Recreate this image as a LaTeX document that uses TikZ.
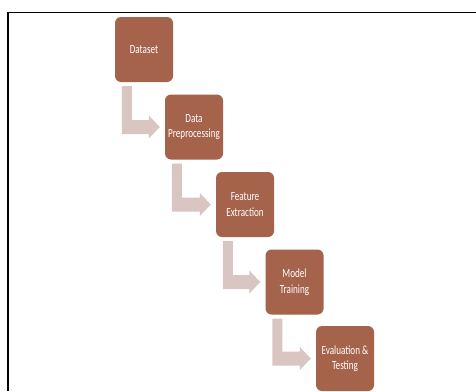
\documentclass[tikz,border=0pt]{standalone}
\usepackage{fontspec}
\setmainfont{Carlito}[FakeStretch=0.73]
\definecolor{boxbrown}{HTML}{A5634C}
\definecolor{arrowpink}{HTML}{D9C6C2}
\tikzset{
  stepbox/.style={rectangle, rounded corners=6pt, fill=boxbrown, draw=none,
    minimum width=58pt, minimum height=65pt, inner sep=1pt, text=white,
    align=center, font=\fontsize{12.5}{15.5}\selectfont},
  bentarrow/.style={fill=arrowpink, draw=none},
  frameline/.style={draw=black, line width=1.4pt}
}
\newcommand{\bentarr}[2]{%
  \fill[bentarrow]
    ([xshift=7pt,yshift=-4pt]#1.south west)
    -- ([xshift=17pt,yshift=-4pt]#1.south west)
    -- ([xshift=17pt,yshift=7pt]#1.south west |- #2.west)
    -- ([xshift=-16pt,yshift=7pt]#2.west)
    -- ([xshift=-16pt,yshift=11.5pt]#2.west)
    -- ([xshift=-5pt]#2.west)
    -- ([xshift=-16pt,yshift=-11.5pt]#2.west)
    -- ([xshift=-16pt,yshift=-7pt]#2.west)
    -- ([xshift=7pt,yshift=-7pt]#1.south west |- #2.west)
    -- cycle;}
\begin{document}
\begin{tikzpicture}[x=1pt,y=-1pt]
\useasboundingbox (0,0) rectangle (476,391);
\fill[white] (0,0) rectangle (476,391);
\coordinate (ftop) at (8,12.5);
\coordinate (fright) at (476,12.5);
\coordinate (fbottom) at (8,391);
\draw[frameline] (fbottom) -- (ftop) -- (fright);
\node[stepbox] (n1) at (144,49.5) {Dataset};
\node[stepbox] (n2) at (194,127) {Data\\Preprocessing};
\node[stepbox] (n3) at (245,204.5) {Feature\\Extraction};
\node[stepbox] (n4) at (294.5,282) {Model\\Training};
\node[stepbox] (n5) at (345,358.5) {Evaluation \&\\Testing};
\bentarr{n1}{n2}
\bentarr{n2}{n3}
\bentarr{n3}{n4}
\bentarr{n4}{n5}
\end{tikzpicture}
\end{document}
